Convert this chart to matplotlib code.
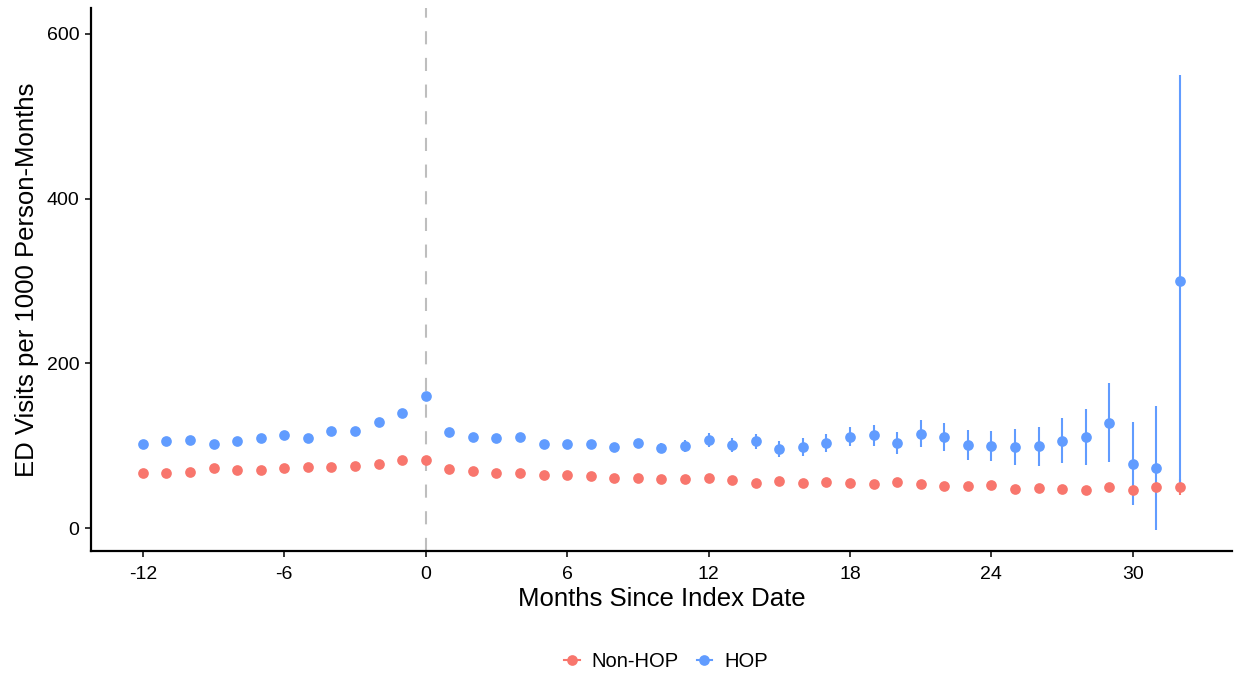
import matplotlib
matplotlib.use("Agg")
import matplotlib.pyplot as plt
from matplotlib.lines import Line2D
import numpy as np

plt.rcParams["font.family"] = ["Liberation Sans", "DejaVu Sans"]
plt.rcParams["axes.unicode_minus"] = False

# Monthly ED visit rates (per 1000 person-months) relative to index date
months = np.arange(-12, 33)

hop_rate = [
    102.6, 105.5, 107.5, 102.6, 105.9, 109.1, 113.6, 109.1, 118.0, 118.0, 128.6, 140.3,
    160.2, 116.8, 110.7, 109.5, 111.2, 102.6, 102.6, 102.6, 98.6, 103.8, 97.4, 99.8,
    106.7, 101.0, 105.5, 96.5, 98.6, 103.8, 111.2, 112.6, 103.0, 114.8, 110.7, 101.0,
    100.2, 98.6, 99.4, 106.3, 110.7, 128.2, 78.3, 73.0, 300.0,
]
hop_err = [
    2.5, 2.5, 2.5, 2.5, 2.5, 2.5, 2.8, 2.8, 3.0, 3.0, 3.2, 3.5,
    4.0, 3.2, 3.2, 3.5, 3.5, 3.5, 3.8, 4.0, 4.5, 5.0, 6.5, 7.0,
    8.7, 8.7, 9.0, 9.7, 10.7, 10.7, 11.8, 13.0, 13.2, 16.6, 17.4, 17.8,
    18.0, 21.9, 23.9, 27.6, 33.9, 48.0, 50.5, 75.0, 250.0,
]
non_hop_rate = [
    66.5, 66.9, 68.1, 72.6, 70.2, 71.0, 72.6, 73.8, 74.6, 75.9, 78.3, 82.7,
    83.2, 72.2, 69.0, 66.5, 67.3, 64.5, 64.5, 63.7, 60.5, 60.5, 59.2, 59.2,
    60.8, 58.8, 55.2, 57.2, 54.4, 56.4, 54.4, 54.0, 55.6, 54.0, 51.5, 51.1,
    52.3, 47.9, 48.7, 47.1, 46.2, 49.5, 46.2, 50.3, 49.9,
]
non_hop_err = [
    1.0, 1.0, 1.0, 1.0, 1.0, 1.0, 1.0, 1.0, 1.0, 1.0, 1.0, 1.0,
    1.2, 1.0, 1.0, 1.0, 1.0, 1.0, 1.0, 1.0, 1.0, 1.0, 1.0, 1.0,
    1.2, 1.2, 1.2, 1.2, 1.3, 1.3, 1.4, 1.5, 1.6, 1.8, 2.0, 2.2,
    2.4, 2.6, 2.8, 3.0, 3.4, 3.8, 4.5, 5.5, 9.5,
]

x_ticks = [-12, -6, 0, 6, 12, 18, 24, 30]
y_ticks = [0, 200, 400, 600]

RED = "#F8766D"
BLUE = "#619CFF"

fig = plt.figure(figsize=(12.38, 6.76), dpi=100)
ax = fig.add_axes([0.0735, 0.185, 0.9215, 0.803])

ax.axvline(0, color="#BEBEBE", lw=1.5, dashes=(6.3, 6.5), zorder=0)

for rate, err, col in [(non_hop_rate, non_hop_err, RED), (hop_rate, hop_err, BLUE)]:
    ax.errorbar(months, rate, yerr=err, fmt="o", color=col, ms=7.7, mew=0,
                elinewidth=1.5, capsize=3.0, capthick=1.5, zorder=2)

ax.set_xlim(-14.2, 34.2)
ax.set_ylim(-27.5, 631)
ax.set_xticks(x_ticks)
ax.set_yticks(y_ticks)
ax.tick_params(labelsize=14, colors="black", length=4, width=1.1)
ax.tick_params(axis="x", pad=7)
ax.tick_params(axis="y", pad=4.5)
ax.spines["top"].set_visible(False)
ax.spines["right"].set_visible(False)
for s in ("left", "bottom"):
    ax.spines[s].set_linewidth(1.6)

ax.set_xlabel("Months Since Index Date", fontsize=18.5, labelpad=3)
ax.set_ylabel("ED Visits per 1000 Person-Months", fontsize=18.5, labelpad=5)

handles = [
    Line2D([], [], marker="o", color=RED, ms=7.7, mew=0, lw=1.5),
    Line2D([], [], marker="o", color=BLUE, ms=7.7, mew=0, lw=1.5),
]
fig.legend(handles, ["Non-HOP", "HOP"], loc="center", bbox_to_anchor=(0.538, 0.021),
           ncol=2, frameon=False, fontsize=14.5, handlelength=0.75,
           handletextpad=0.6, columnspacing=0.9)

fig.savefig("out.png", dpi=100)
